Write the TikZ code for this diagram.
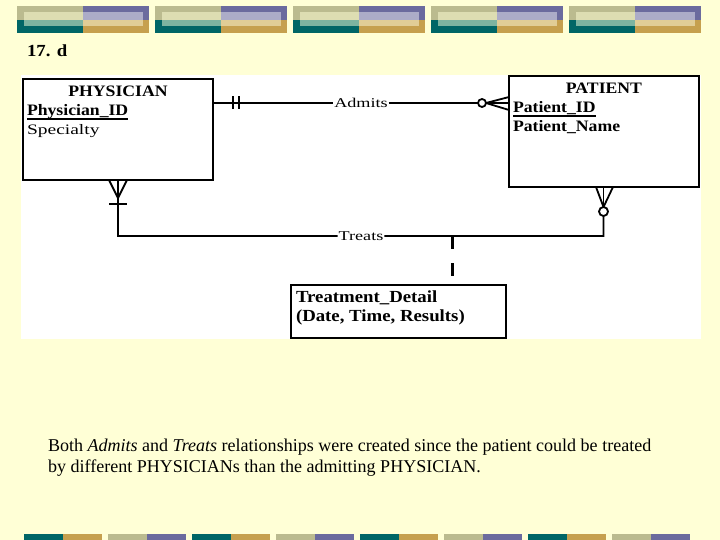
\documentclass[tikz,border=0pt]{standalone}
\usepackage{fontspec}
\setmainfont{Liberation Serif}
\newfontfamily\erb[FakeStretch=1.11]{Liberation Serif}
\newfontfamily\err[FakeStretch=1.35]{Liberation Serif}
\usetikzlibrary{calc}
\definecolor{cream}{RGB}{255,255,214}
\definecolor{bkhaki}{RGB}{187,187,143}
\definecolor{bkhakiL}{RGB}{221,221,178}
\definecolor{bpurple}{RGB}{107,107,158}
\definecolor{bpurpleL}{RGB}{172,172,200}
\definecolor{bteal}{RGB}{0,102,102}
\definecolor{btealL}{RGB}{125,180,160}
\definecolor{bgold}{RGB}{198,160,78}
\definecolor{bgoldL}{RGB}{225,205,150}
\tikzset{
  entity/.style={draw, line width=2.4bp, fill=white, anchor=north west, inner sep=0pt, outer sep=0pt},
  lbl/.style={inner sep=0pt, outer sep=0pt, text=black},
  rel/.style={inner sep=1bp, outer sep=0pt, font=\err\fontsize{13.5}{13.5}\selectfont},
  conn/.style={line width=1.8bp},
  barline/.style={line width=2.6bp},
  ring/.style={circle, draw, line width=1.8bp, fill=white, inner sep=0pt, outer sep=0pt, minimum size=8bp},
  dashline/.style={line width=3bp, dash pattern=on 13bp off 14bp},
  uline/.style={line width=1.2bp}
}
\begin{document}
\begin{tikzpicture}[x=1bp,y=-1bp]
\useasboundingbox (0,0) rectangle (720,540);
\fill[cream] (0,0) rectangle (720,540);
% top decoration bars
\foreach \x in {17,155,293,431,569} {
  \fill[bkhaki] (\x,6) rectangle ++(66,14);
  \fill[bpurple] (\x+66,6) rectangle ++(65.5,14);
  \fill[bteal] (\x,20) rectangle ++(66,13);
  \fill[bgold] (\x+66,20) rectangle ++(65.5,13);
  \fill[bkhakiL] (\x+6.5,12) rectangle ++(59.5,8);
  \fill[bpurpleL] (\x+66,12) rectangle ++(60,8);
  \fill[btealL] (\x+6.5,20) rectangle ++(59.5,6);
  \fill[bgoldL] (\x+66,20) rectangle ++(60,6);
}
% bottom decoration bars
\foreach \x/\ca/\cb in {24/bteal/bgold,108/bkhaki/bpurple,192/bteal/bgold,276/bkhaki/bpurple,360/bteal/bgold,444/bkhaki/bpurple,528/bteal/bgold,612/bkhaki/bpurple} {
  \fill[\ca] (\x,534) rectangle ++(39,6);
  \fill[\cb] (\x+39,534) rectangle ++(39,6);
}
% title
\node[lbl, anchor=base west] (title) at (27,57) {\erb\bfseries\fontsize{17}{17}\selectfont 17. d};
% white panel
\fill[white] (21,75) rectangle (701,339);
% entities
\node[entity, minimum width=190bp, minimum height=101bp] (phys) at (23,79) {};
\node[entity, minimum width=190bp, minimum height=111bp] (pat) at (509,76) {};
\node[entity, minimum width=215bp, minimum height=53bp] (td) at (291,285) {};
% entity texts
\node[lbl, anchor=base] (physname) at (118,97) {\erb\bfseries\fontsize{16}{16}\selectfont PHYSICIAN};
\node[lbl, anchor=base west] (physid) at (27,116) {\erb\bfseries\fontsize{16}{16}\selectfont Physician\_ID};
\node[lbl, anchor=base west] (physsp) at (27,135) {\err\fontsize{14.5}{14.5}\selectfont Specialty};
\draw[uline] ($(physid.base west)+(0,3)$) -- ($(physid.base east)+(0,3)$);
\node[lbl, anchor=base] (patname) at (604,94) {\erb\bfseries\fontsize{16}{16}\selectfont PATIENT};
\node[lbl, anchor=base west] (patid) at (513,113) {\erb\bfseries\fontsize{16}{16}\selectfont Patient\_ID};
\node[lbl, anchor=base west] (patnm) at (513,132) {\erb\bfseries\fontsize{16}{16}\selectfont Patient\_Name};
\draw[uline] ($(patid.base west)+(0,3)$) -- ($(patid.base east)+(0,3)$);
\node[lbl, anchor=base west] (tdname) at (296,302) {\erb\bfseries\fontsize{17}{17}\selectfont Treatment\_Detail};
\node[lbl, anchor=base west] (tdattr) at (296,321) {\erb\bfseries\fontsize{17}{17}\selectfont (Date, Time, Results)};
% Admits relationship
\coordinate (adA) at ($(phys.north east)+(0,24)$);
\node[rel] (admits) at (361,103) {Admits};
\node[ring] (adO) at (482,103) {};
\draw[conn] (adA) -- (admits) -- (adO);
\draw[barline] ($(adA)+(20,-6.5)$) -- ++(0,13);
\draw[barline] ($(adA)+(26,-6.5)$) -- ++(0,13);
\draw[conn] (adO.east) -- ($(pat.north west)+(0,21)$);
\draw[conn] (adO.east) -- ($(pat.north west)+(0,27)$);
\draw[conn] (adO.east) -- ($(pat.north west)+(0,34)$);
% Treats relationship
\coordinate (tpA) at ($(phys.south west)+(95,18)$);
\coordinate (tpC) at ($(phys.south west)+(95,56)$);
\node[rel] (treats) at (361,236) {Treats};
\node[ring, minimum size=9bp] (ptO) at (603.5,211.5) {};
\coordinate (ptC) at (603.5,236);
\draw[conn] (tpA) -- (tpC) -- (treats) -- (ptC) -- (ptO);
\draw[conn] (tpA) -- ($(phys.south west)+(86,0)$);
\draw[conn] (tpA) -- ($(phys.south west)+(95,0)$);
\draw[conn] (tpA) -- ($(phys.south west)+(104,0)$);
\draw[conn] ($(phys.south west)+(86,24)$) -- ++(18,0);
\draw[conn] (ptO.north) -- ($(pat.south west)+(87,0)$);
\draw[conn] (ptO.north) -- ($(pat.south west)+(94.5,0)$);
\draw[conn] (ptO.north) -- ($(pat.south west)+(104,0)$);
% associative entity link
\coordinate (tdT) at ($(td.north west)+(161,-49)$);
\draw[dashline] (tdT) -- (tdT |- td.north);
% explanation
\node[lbl, anchor=base west] (expl1) at (48,451) {\fontsize{18.1}{18.1}\selectfont Both \textit{Admits} and \textit{Treats} relationships were created since the patient could be treated};
\node[lbl, anchor=base west] (expl2) at (48,472) {\fontsize{18.1}{18.1}\selectfont by different PHYSICIANs than the admitting PHYSICIAN.};
\end{tikzpicture}
\end{document}
